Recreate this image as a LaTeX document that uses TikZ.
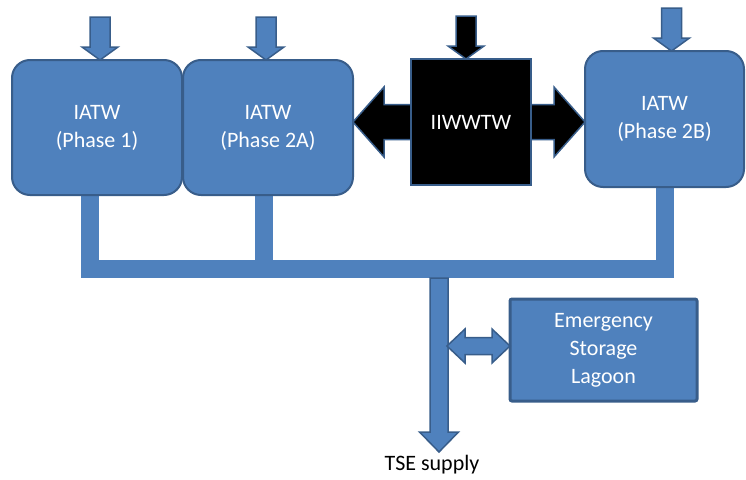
\documentclass[tikz,border=0pt]{standalone}
\usepackage{fontspec}
\setmainfont{Carlito}
\usetikzlibrary{backgrounds}
\definecolor{tankblue}{RGB}{79,129,189}
\definecolor{rimblue}{RGB}{56,93,138}
% inflow block arrow, tip on the given point
\newcommand\feed[2][tankblue]{%
  \filldraw[fill=#1, draw=rimblue, line width=1.5pt, line join=miter] (#2) -- ++(-18,-13) -- ++(8,0) -- ++(0,-30) -- ++(20,0) -- ++(0,30) -- ++(8,0) -- cycle;}
\begin{document}
\begin{tikzpicture}[x=1pt,y=-1pt,
  every node/.style={font=\fontsize{22}{28}\selectfont, align=center, text=white, outer sep=0pt, inner sep=0pt},
  plant/.style={draw=rimblue, line width=2pt, fill=tankblue, rounded corners=18pt, minimum width=170pt, minimum height=135pt},
  pipe/.style={draw=tankblue, line width=18pt, line join=miter},
  block/.style={fill=tankblue, draw=rimblue, line width=1.5pt, line join=miter}]
\useasboundingbox (0,0) rectangle (746,479);
\coordinate (bus) at (439,269);
\coordinate (out) at (439,452);
\coordinate (iw) at (471,122);
\node[plant] (p1) at (97,127.5) {IATW\\(Phase 1)};
\node[plant] (p2a) at (268,127.5) {IATW\\(Phase 2A)};
\node[plant, minimum width=159pt, minimum height=136pt] (p2b) at (664.5,119) {IATW\\(Phase 2B)};
% collecting pipes, under the plants
\begin{scope}[on background layer]
\draw[pipe] ([xshift=-7pt]p1.south) |- (bus) -| (p2b.south);
\draw[pipe] ([xshift=-4pt]p2a.south) -- ([xshift=-4pt]p2a.south |- bus);
\end{scope}
% exchange between IIWWTW and both IATW plants
\filldraw[fill=black, draw=rimblue, line width=1.5pt, line join=miter] (p2b.west |- iw) -- ++(-31,-35) -- ++(0,17.5) -- ++(-170,0) -- ++(0,-17.5) -- ++(-31,35) -- ++(31,35) -- ++(0,-17.5) -- ++(170,0) -- ++(0,17.5) -- cycle;
\node[fill=black, draw=rimblue, line width=1.5pt, minimum width=120pt, minimum height=126pt] (iiw) at (iw) {IIWWTW};
\feed{[xshift=3pt]p1.north}
\feed{[xshift=-2pt]p2a.north}
\feed[black]{[xshift=-5pt]iiw.north}
\feed{[xshift=7pt]p2b.north}
% storage lagoon and outlet
\node[fill=tankblue, draw=rimblue, line width=3pt, rounded corners=2pt, minimum width=187pt, minimum height=102pt] (esl) at (603.5,350) {Emergency\\Storage\\Lagoon};
\filldraw[block] (out) -- ++(-19.5,-20) -- ++(10.5,0) -- ++(0,-154) -- ++(18,0) -- ++(0,154) -- ++(10.5,0) -- cycle;
\filldraw[block] ([yshift=4pt]esl.west) -- ++(-18,-17) -- ++(0,8.5) -- ++(-27,0) -- ++(0,-8.5) -- ++(-18,17) -- ++(18,17) -- ++(0,-8.5) -- ++(27,0) -- ++(0,8.5) -- cycle;
\node[text=black] (tse) at (432,465) {TSE supply};
\end{tikzpicture}
\end{document}
